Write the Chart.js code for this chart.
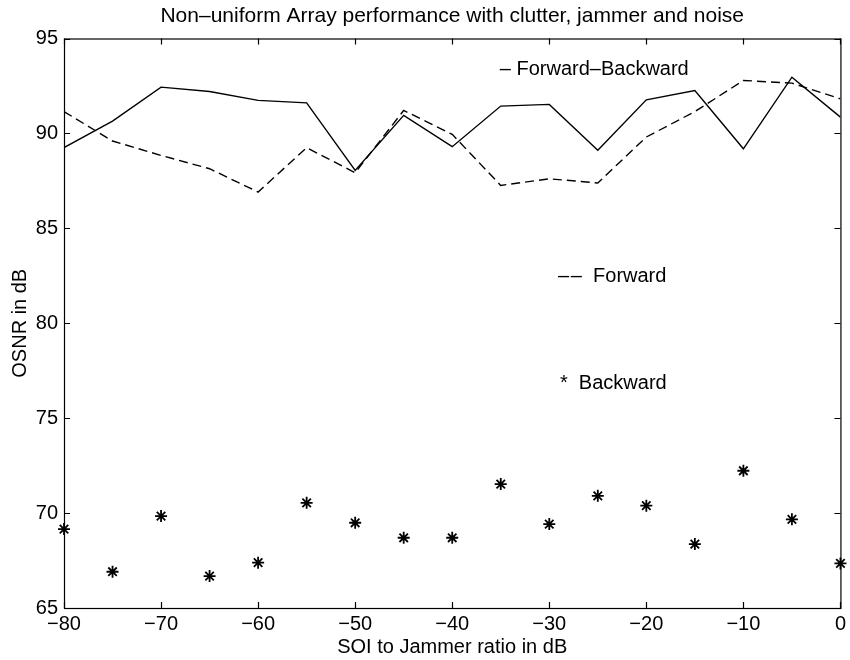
<!DOCTYPE html>
<html>
<head>
<meta charset="utf-8">
<script src="https://cdn.jsdelivr.net/npm/chart.js@4.4.1/dist/chart.umd.min.js"></script>
<style>
  html, body { margin: 0; padding: 0; background: #fff; }
  #wrap { width: 850px; height: 660px; }
</style>
</head>
<body>
<div id="wrap"><canvas id="osnrChart" width="850" height="660"></canvas></div>
<script>
// SOI to jammer ratio, dB
var sjr = [-80, -75, -70, -65, -60, -55, -50, -45, -40, -35, -30, -25, -20, -15, -10, -5, 0];
// OSNR in dB for each method
var fwdBwd = [89.25, 90.65, 92.44, 92.21, 91.74, 91.61, 88.05, 90.95, 89.3, 91.44, 91.53, 89.11, 91.77, 92.26, 89.19, 92.96, 90.86];
var fwd = [91.15, 89.6, 88.84, 88.14, 86.91, 89.25, 87.93, 91.21, 89.95, 87.26, 87.61, 87.39, 89.81, 91.15, 92.79, 92.65, 91.82];
var bwd = [69.16, 66.91, 69.84, 66.68, 67.39, 70.54, 69.49, 68.7, 68.7, 71.53, 69.42, 70.91, 70.39, 68.37, 72.23, 69.67, 67.35];

var xTicks = [-80, -70, -60, -50, -40, -30, -20, -10, 0];
var yTicks = [65, 70, 75, 80, 85, 90, 95];

var title = 'Non\u2013uniform Array performance with clutter, jammer and noise';

// text labels placed inside the plot (data coordinates)
var noteText = ['\u2013 Forward\u2013Backward', '\u2013\u200a\u2013  Forward', '*  Backward'];
var noteX = [-35.1, -29.1, -28.9];
var noteY = [93.35, 82.45, 76.85];

var FONT = '"Liberation Sans", Arial, Helvetica, sans-serif';

function pts(ys) {
  return sjr.map(function (x, i) { return { x: x, y: ys[i] }; });
}
function minus(v) {
  return String(v).replace('-', '\u2212');
}

// matlab style box, inward ticks, title over the axes and the text notes
var boxPlugin = {
  id: 'box',
  afterDraw: function (chart) {
    var ctx = chart.ctx, a = chart.chartArea;
    var xs = chart.scales.x, ys = chart.scales.y, len = 6;
    ctx.save();
    ctx.strokeStyle = '#000';
    ctx.lineWidth = 1.2;
    ctx.strokeRect(a.left + 0.5, a.top + 0.5, a.right - a.left, a.bottom - a.top);
    ctx.beginPath();
    xTicks.forEach(function (v) {
      var p = Math.round(xs.getPixelForValue(v)) + 0.5;
      ctx.moveTo(p, a.bottom); ctx.lineTo(p, a.bottom - len);
      ctx.moveTo(p, a.top); ctx.lineTo(p, a.top + len);
    });
    yTicks.forEach(function (v) {
      var p = Math.round(ys.getPixelForValue(v)) + 0.5;
      ctx.moveTo(a.left, p); ctx.lineTo(a.left + len, p);
      ctx.moveTo(a.right, p); ctx.lineTo(a.right - len, p);
    });
    ctx.stroke();

    ctx.fillStyle = '#000';
    ctx.textBaseline = 'middle';
    ctx.font = '21px ' + FONT;
    ctx.textAlign = 'center';
    ctx.fillText(title, (a.left + a.right) / 2, 16);

    ctx.font = '20px ' + FONT;
    ctx.textAlign = 'left';
    noteText.forEach(function (t, i) {
      ctx.fillText(t, xs.getPixelForValue(noteX[i]), ys.getPixelForValue(noteY[i]));
    });
    ctx.restore();
  }
};

var ctx = document.getElementById('osnrChart').getContext('2d');
var chart = new Chart(ctx, {
  type: 'scatter',
  data: {
    datasets: [
      {
        label: 'Forward-Backward',
        data: pts(fwdBwd),
        showLine: true,
        borderColor: '#000',
        borderWidth: 1.4,
        pointRadius: 0,
        tension: 0
      },
      {
        label: 'Forward',
        data: pts(fwd),
        showLine: true,
        borderColor: '#000',
        borderWidth: 1.4,
        borderDash: [9, 5],
        pointRadius: 0,
        tension: 0
      },
      {
        label: 'Backward',
        data: pts(bwd),
        showLine: false,
        pointStyle: 'star',
        pointRadius: 6,
        borderColor: '#000',
        backgroundColor: '#000',
        pointBorderWidth: 1.8,
        clip: false
      }
    ]
  },
  options: {
    responsive: false,
    animation: false,
    layout: { padding: { left: 0, right: 9, top: 38.5, bottom: 0 } },
    plugins: {
      legend: { display: false },
      tooltip: { enabled: false },
      title: { display: false }
    },
    scales: {
      x: {
        type: 'linear',
        min: -80,
        max: 0,
        afterBuildTicks: function (s) { s.ticks = xTicks.map(function (v) { return { value: v }; }); },
        afterFit: function (s) { s.height = 52; },
        grid: { display: false, drawTicks: false },
        border: { display: false },
        ticks: {
          color: '#000',
          padding: 4,
          maxRotation: 0,
          font: { family: FONT, size: 20 },
          callback: function (v) { return minus(v); }
        },
        title: {
          display: true,
          text: 'SOI to Jammer ratio in dB',
          color: '#000',
          font: { family: FONT, size: 20 },
          padding: { top: 0, bottom: 1 }
        }
      },
      y: {
        type: 'linear',
        min: 65,
        max: 95,
        afterBuildTicks: function (s) { s.ticks = yTicks.map(function (v) { return { value: v }; }); },
        afterFit: function (s) { s.width = 64; },
        grid: { display: false, drawTicks: false },
        border: { display: false },
        ticks: {
          color: '#000',
          padding: 6,
          font: { family: FONT, size: 20 },
          callback: function (v) { return minus(v); }
        },
        title: {
          display: true,
          text: 'OSNR in dB',
          color: '#000',
          font: { family: FONT, size: 20 },
          padding: { top: 8, bottom: 0 }
        }
      }
    }
  },
  plugins: [boxPlugin]
});
</script>
</body>
</html>
